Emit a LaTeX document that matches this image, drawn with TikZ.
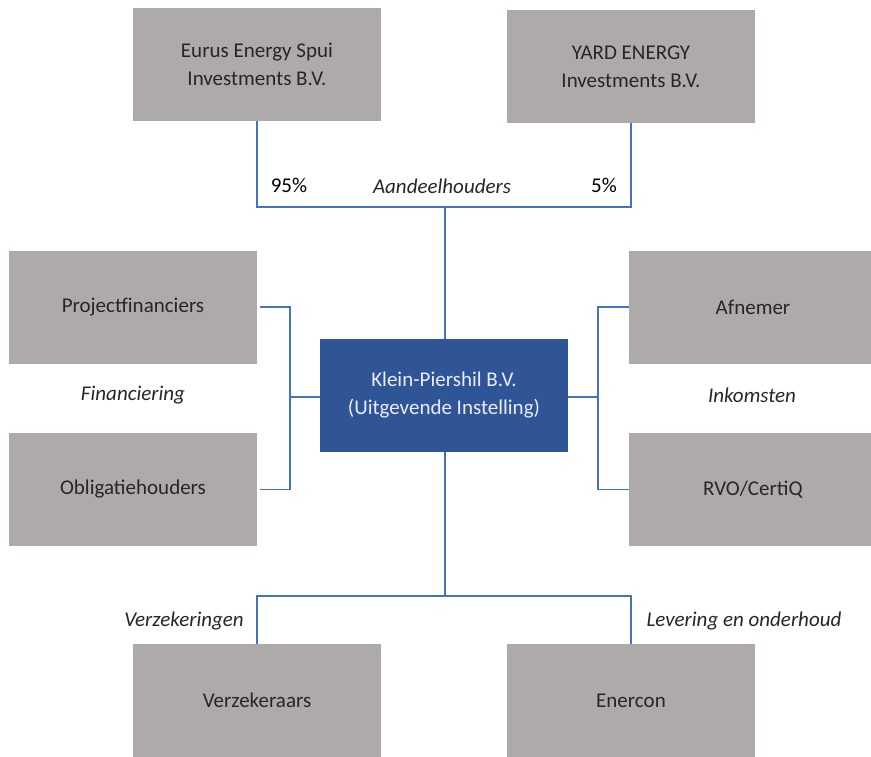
\documentclass[tikz,border=0pt]{standalone}
\usepackage{fontspec}
\setmainfont{Carlito}
\usepackage{xcolor}
\usetikzlibrary{positioning}

\definecolor{boxgray}{HTML}{AEAAAA}
\definecolor{hubblue}{HTML}{2F5597}
\definecolor{linkblue}{HTML}{4472C4}

\begin{document}
\begin{tikzpicture}[
        x=1pt, y=-1pt,
        font=\fontsize{21}{28}\selectfont,
        box/.style={fill=boxgray, text=black!85, align=center, inner sep=0pt, outer sep=0pt, minimum width=248pt, minimum height=113pt},
        hub/.style={box, fill=hubblue, text=white!92!blue},
        conn/.style={draw=linkblue, line width=1.2pt},
        lbl/.style={font=\fontsize{21}{24}\selectfont\itshape, text=black!85}
    ]
        \useasboundingbox (0,0) rectangle (871,756);
        % boxes
        \node[box] (eurus) at (257,64.5) {Eurus Energy Spui\\Investments B.V.};
        \node[box] (yard) at (631,66.5) {YARD ENERGY\\Investments B.V.};
        \node[box] (proj) at (133,307) {Projectfinanciers};
        \node[box] (oblig) at (133,489.5) {Obligatiehouders};
        \node[box] (afn) at (753,307) {Afnemer};
        \node[box] (rvo) at (753,489.5) {RVO/CertiQ};
        \node[hub] (klein) at (444,395) {Klein-Piershil B.V.\\(Uitgevende Instelling)};
        \node[box] (verz) at (257,700.5) {Verzekeraars};
        \node[box] (ener) at (631,700.5) {Enercon};
        % junctions
        \coordinate (share) at (445,207);
        \coordinate (fin) at (290,397);
        \coordinate (inc) at (598,397);
        \coordinate (supp) at (445,596);
        % connectors
        \draw[conn] (eurus.south) |- (share) -| (yard.south);
        \draw[conn] (share) -- (share |- klein.north);
        \draw[conn] ([xshift=3pt]proj.east) -| (fin) |- ([xshift=3pt]oblig.east);
        \draw[conn] (fin) -- (fin -| klein.west);
        \draw[conn] (afn.west) -| (inc) |- (rvo.west);
        \draw[conn] (inc) -- (inc -| klein.east);
        \draw[conn] (supp |- klein.south) -- (supp);
        \draw[conn] (verz.north) |- (supp) -| (ener.north);
        % labels
        \node (p95) at (289,185) {95\%};
        \node (p5) at (604,185) {5\%};
        \node[lbl] (aand) at (442,186) {Aandeelhouders};
        \node[lbl] (finl) at (133,395) {Financiering};
        \node[lbl] (inkl) at (752,395) {Inkomsten};
        \node[lbl] (verzl) at (184,621) {Verzekeringen};
        \node[lbl] (levl) at (744,621) {Levering en onderhoud};
    \end{tikzpicture}
\end{document}
